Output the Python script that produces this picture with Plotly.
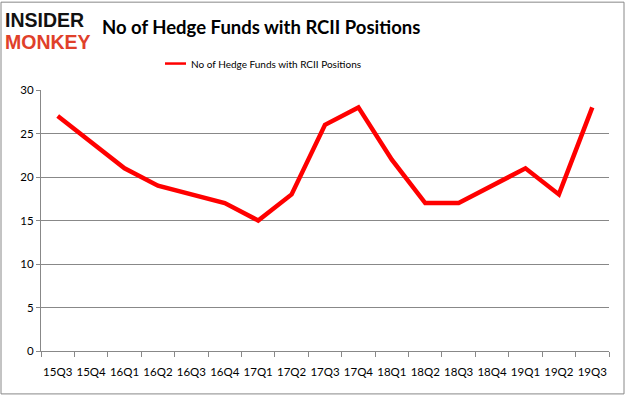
import plotly.graph_objects as go

quarters = ["15Q3", "15Q4", "16Q1", "16Q2", "16Q3", "16Q4", "17Q1", "17Q2", "17Q3",
            "17Q4", "18Q1", "18Q2", "18Q3", "18Q4", "19Q1", "19Q2", "19Q3"]
hedge_funds = [27, 24, 21, 19, 18, 17, 15, 18, 26, 28, 22, 17, 17, 19, 21, 18, 28]
series_name = "No of Hedge Funds with RCII Positions"
chart_title = "No of Hedge Funds with RCII Positions"

W, H = 626, 397
L, R, T, B = 41, 609, 89.5, 351


def px_x(x):
    return (x - L) / (R - L)


def px_y(y):
    return (B - y) / (B - T)


fig = go.Figure()
fig.add_trace(go.Scatter(
    x=quarters, y=hedge_funds, mode="lines", name=series_name,
    line=dict(color="#FF0000", width=4.5), showlegend=False,
))

font_fam = "Lato, Liberation Sans, sans-serif"

fig.update_layout(
    width=W, height=H,
    margin=dict(l=L, r=W - R, t=T, b=H - B, autoexpand=False),
    paper_bgcolor="white", plot_bgcolor="white",
    font=dict(family=font_fam, size=11, color="black"),
    xaxis=dict(
        type="category", range=[-0.5, len(quarters) - 0.5],
        tickson="boundaries", ticks="outside", ticklen=5, tickcolor="#888888",
        showline=True, linecolor="#888888", linewidth=1,
        showgrid=False, tickfont=dict(size=11.5, family=font_fam),
        tickangle=0, automargin=False, ticklabelstandoff=10,
        fixedrange=True,
    ),
    yaxis=dict(
        range=[0, 30], dtick=5, ticks="outside", ticklen=4, tickcolor="#888888",
        showline=True, linecolor="#888888", linewidth=1,
        showgrid=True, gridcolor="#888888", gridwidth=1,
        tickfont=dict(size=11.5, family=font_fam), zeroline=False,
        automargin=False, fixedrange=True,
    ),
    shapes=[
        dict(type="rect", xref="paper", yref="paper",
             x0=px_x(1), x1=px_x(624), y0=px_y(394), y1=px_y(1.5),
             line=dict(color="#888888", width=1), fillcolor="rgba(0,0,0,0)", layer="below"),
        dict(type="line", xref="paper", yref="paper",
             x0=px_x(165), x1=px_x(186), y0=px_y(63), y1=px_y(63),
             line=dict(color="#FF0000", width=2.5)),
    ],
    annotations=[
        dict(text="<b>" + chart_title + "</b>", xref="paper", yref="paper",
             x=px_x(261), y=px_y(26), xanchor="center", yanchor="middle",
             showarrow=False, font=dict(size=18.5, family=font_fam, color="black")),
        dict(text=series_name, xref="paper", yref="paper",
             x=px_x(189), y=px_y(63), xanchor="left", yanchor="middle",
             showarrow=False, font=dict(size=10, family=font_fam, color="black")),
        dict(text="<b>INSIDER</b>", xref="paper", yref="paper",
             x=px_x(3), y=px_y(19), xanchor="left", yanchor="middle",
             showarrow=False, font=dict(size=19.5, family="Liberation Sans", color="#111111")),
        dict(text="<b>MONKEY</b>", xref="paper", yref="paper",
             x=px_x(3), y=px_y(41), xanchor="left", yanchor="middle",
             showarrow=False, font=dict(size=19.5, family="Liberation Sans", color="#E0402A")),
    ],
)

fig.write_html("out.html", config={"displayModeBar": False},
               post_script="document.body.style.margin='0';document.body.style.padding='0';")
